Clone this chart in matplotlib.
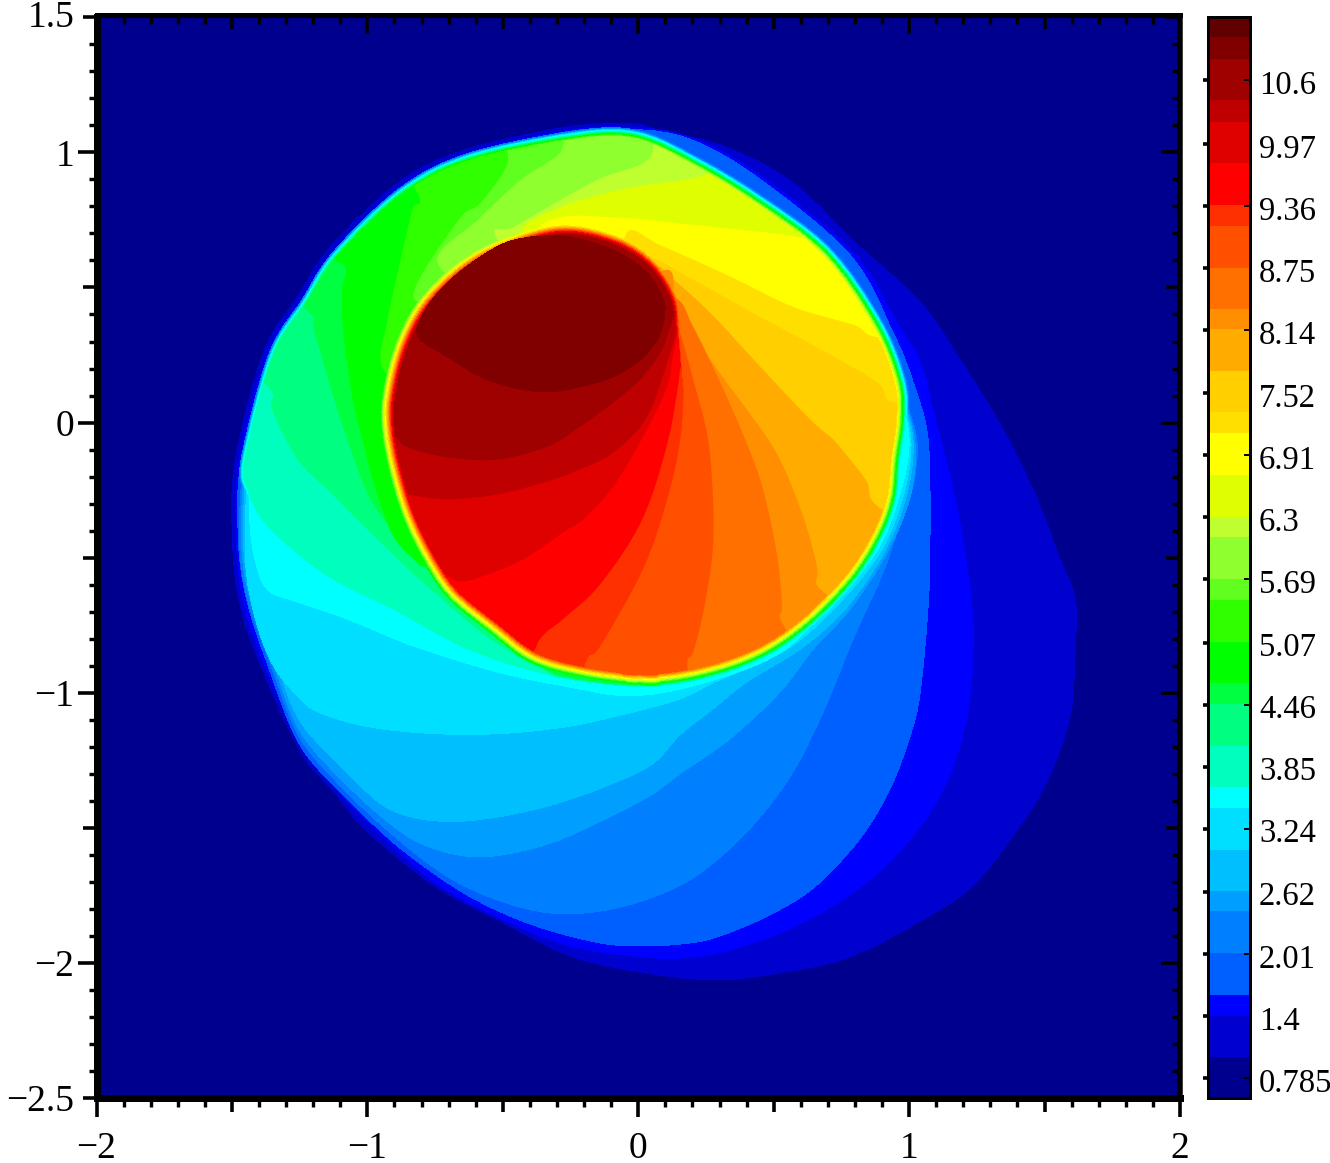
import numpy as np
import matplotlib
matplotlib.use("Agg")
import matplotlib.pyplot as plt
import matplotlib.lines as mlines
from matplotlib.path import Path
from matplotlib.patches import PathPatch
from matplotlib.ticker import MultipleLocator

plt.rcParams["font.family"] = ["Liberation Serif", "DejaVu Serif"]

# colour bands of the scale, lowest first
band_edges = [0.592, 0.994, 1.396, 1.60, 2.015, 2.427, 2.623, 3.035, 3.447, 3.653, 4.056,
              4.468, 4.674, 5.077, 5.489, 5.695, 6.107, 6.303, 6.715, 7.127, 7.333, 7.736,
              8.148, 8.354, 8.756, 9.168, 9.374, 9.787, 10.19, 10.40, 10.81, 11.02, 11.22]
band_rgb = [(0, 0, 143), (0, 0, 207), (0, 0, 255), (0, 96, 255), (0, 128, 255), (0, 159, 255),
            (0, 191, 255), (0, 223, 255), (0, 255, 255), (0, 255, 191), (0, 255, 128),
            (0, 255, 64), (0, 255, 0), (48, 255, 0), (96, 255, 32), (143, 255, 48),
            (191, 255, 48), (223, 255, 0), (255, 255, 0), (255, 223, 0), (255, 207, 0),
            (255, 171, 0), (255, 143, 0), (255, 112, 0), (255, 80, 0), (255, 48, 0),
            (255, 0, 0), (223, 0, 0), (191, 0, 0), (159, 0, 0), (128, 0, 0), (96, 0, 0)]
cbar_ticks = [0.785, 1.4, 2.01, 2.62, 3.24, 3.85, 4.46, 5.07, 5.69, 6.3, 6.91, 7.52, 8.14,
              8.75, 9.36, 9.97, 10.6]
cbar_labels = ["0.785", "1.4", "2.01", "2.62", "3.24", "3.85", "4.46", "5.07", "5.69", "6.3",
               "6.91", "7.52", "8.14", "8.75", "9.36", "9.97", "10.6"]

# contour outlines of the three lowest levels
c01_x = [-.030, .081, .328, .572, .819, 1.041, 1.188, 1.336, 1.465, 1.557, 1.613, 1.613, 1.594, 1.509,
         1.384, 1.225, 1.015, .771, .524, .277, -.018, -.262, -.509, -.756, -1.0, -1.125, -1.247, -1.384,
         -1.469, -1.498, -1.487, -1.384, -1.258, -1.137, -.889, -.646, -.277]
c01_y = [1.107, 1.081, 1.018, .886, .649, .446, .232, -.007, -.266, -.506, -.653, -.838, -1.085, -1.328,
         -1.528, -1.723, -1.860, -1.982, -2.037, -2.063, -2.03, -1.97, -1.845, -1.712, -1.513, -1.365,
         -1.218, -.923, -.679, -.432, -.137, .258, .465, .649, .886, 1.007, 1.092]
c02_x = [-.022, .192, .450, .793, .948, 1.041, 1.096, 1.170, 1.225, 1.236, 1.214, 1.140, 1.015, .830, .587,
         .339, .155, -.018, -.262, -.509, -.756, -1.0, -1.125, -1.247, -1.376, -1.458, -1.483, -1.472,
         -1.369, -1.244, -1.122, -.875, -.631, -.262]
c02_y = [1.092, 1.055, .915, .627, .380, .221, .011, -.284, -.616, -.838, -1.085, -1.328, -1.528, -1.712,
         -1.860, -1.952, -1.982, -1.974, -1.934, -1.834, -1.697, -1.476, -1.343, -1.181, -.904, -.661,
         -.432, -.137, .251, .454, .635, .875, .996, 1.081]
c03_x = [-.015, .192, .439, .782, .941, 1.015, 1.070, 1.077, 1.070, 1.041, 1.004, .930, .819, .646, .461,
         .277, .155, .018, -.140, -.387, -.631, -.878, -1.063, -1.247, -1.369, -1.446, -1.476, -1.465,
         -1.358, -1.232, -1.111, -.867, -.624, -.258]
c03_y = [1.085, 1.048, .908, .620, .332, .148, -.063, -.432, -.679, -.996, -1.159, -1.354, -1.539, -1.723,
         -1.834, -1.908, -1.930, -1.937, -1.926, -1.860, -1.749, -1.576, -1.402, -1.196, -.893, -.653,
         -.432, -.137, .244, .446, .627, .867, .989, 1.077]

# lower contours of the levels that wrap under the shell
c04_x = [.989, 1.030, 1.011, .967, .904, .793, .683, .561, .402, .218, .044, -.140, -.325, -.509, -.694,
         -.878, -1.063, -1.247, -1.358, -1.443, -1.472, -1.461]
c04_y = [.085, -.081, -.247, -.369, -.554, -.801, -1.070, -1.310, -1.513, -1.675, -1.760, -1.808, -1.815,
         -1.771, -1.686, -1.550, -1.380, -1.170, -.893, -.653, -.432, -.137]
c05_x = [.985, 1.022, 1.004, .919, .782, .646, .524, .339, .155, .044, -.140, -.325, -.509, -.631, -.756,
         -.878, -1.063, -1.247, -1.351, -1.435, -1.465, -1.454]
c05_y = [.085, -.081, -.273, -.480, -.690, -.838, -.996, -1.170, -1.299, -1.380, -1.476, -1.557, -1.601,
         -1.605, -1.576, -1.513, -1.354, -1.144, -.882, -.646, -.432, -.137]
c06_x = [.982, 1.015, .989, .908, .764, .598, .402, .277, .155, .044, -.140, -.325, -.509, -.668, -.815,
         -.941, -1.063, -1.247, -1.343, -1.428, -1.458, -1.446]
c06_y = [.085, -.081, -.273, -.480, -.690, -.838, -.959, -1.059, -1.155, -1.269, -1.354, -1.417, -1.458,
         -1.476, -1.465, -1.417, -1.306, -1.107, -.867, -.638, -.432, -.137]
c07_x = [.978, 1.007, .978, .893, .738, .550, .292, .155, -.030, -.262, -.509, -.756, -1.0, -1.184, -1.258,
         -1.347, -1.413, -1.450, -1.443]
c07_y = [.085, -.081, -.273, -.480, -.672, -.838, -.956, -1.022, -1.074, -1.125, -1.151, -1.151, -1.125,
         -1.070, -1.011, -.900, -.727, -.506, -.137]
c08_x = [.974, 1.0, .963, .878, .708, .517, .229, -.030, -.277, -.520, -.830, -1.074, -1.258, -1.358,
         -1.402, -1.432, -1.435]
c08_y = [.085, -.081, -.273, -.480, -.672, -.856, -.967, -1.011, -.974, -.923, -.827, -.727, -.664, -.627,
         -.554, -.395, -.137]

# contours across the shell and the core, each running from inner end to outer end
c09_x = [.007, -.214, -.399, -.646, -.889, -1.137, -1.284, -1.387, -1.469, -1.542]
c09_y = [-1.041, -.985, -.941, -.838, -.701, -.579, -.469, -.395, -.303, -.137]
c10_x = [.007, -.232, -.336, -.546, -.768, -.952, -1.137, -1.258, -1.351, -1.351, -1.432, -1.506]
c10_y = [-1.041, -.967, -.923, -.801, -.616, -.443, -.258, -.137, .048, .111, .196, .306]
c11_x = [.007, -.288, -.399, -.546, -.720, -.867, -.989, -1.074, -1.137, -1.199, -1.199, -1.284, -1.395]
c11_y = [-1.041, -.941, -.875, -.764, -.605, -.443, -.284, -.063, .133, .354, .391, .472, .601]
c12_x = [-.804, -.904, -.978, -1.018, -1.052, -1.089, -1.092, -1.081, -1.155, -1.247]
c12_y = [-.531, -.421, -.221, -.063, .074, .332, .491, .576, .620, .731]
c13_x = [-.768, -.941, -.926, -.852, -.830, -.804, -.860, -.878]
c13_y = [.085, .196, .380, .712, .797, .823, .934, 1.044]
c14_x = [-.620, -.830, -.664, -.583, -.483, -.509, -.528]
c14_y = [.454, .465, .749, .812, .959, 1.063, 1.155]
c15_x = [-.583, -.742, -.594, -.435, -.288, -.288]
c15_y = [.454, .601, .749, .897, 1.0, 1.100]
c16_x = [-.362, -.528, -.461, -.277, -.129, .033, .063]
c16_y = [.454, .694, .723, .830, .908, .970, 1.081]
c17_x = [-.288, -.435, -.288, -.041, .240, .273]
c17_y = [.454, .690, .797, .867, .915, 1.007]
c18_x = [-.251, -.380, -.288, -.041, .144, .598, .683, .764]
c18_y = [.454, .675, .760, .756, .738, .686, .638, .675]
c19_x = [-.066, -.041, .081, .328, .572, .793, .849, .930]
c19_y = [.491, .705, .657, .546, .428, .362, .325, .306]
c20_x = [-.030, .026, .203, .450, .697, .882, .919, .985]
c20_y = [.454, .609, .528, .391, .258, .148, .085, .066]
c21_x = [-.066, .063, .118, .266, .450, .635, .720, .782, .845, .867, .985]
c21_y = [.454, .572, .539, .406, .207, .011, -.063, -.137, -.221, -.295, -.376]
c22_x = [-.066, .111, .144, .266, .480, .561, .624, .661, .661, .745]
c22_y = [.454, .565, .417, .232, -.063, -.221, -.395, -.542, -.605, -.672]
c23_x = [-.066, .129, .203, .303, .395, .461, .513, .531, .524, .590]
c23_y = [.454, .465, .354, .148, -.063, -.247, -.494, -.679, -.727, -.838]
c24_x = [-.066, .118, .155, .203, .258, .277, .273, .240, .203, .181, .192]
c24_y = [.454, .443, .332, .159, -.063, -.310, -.494, -.701, -.849, -.882, -.985]
c25_x = [.192, .192, .173, .155, .107, .018, -.140, -.188, -.232]
c25_y = [.638, .343, .196, -.063, -.284, -.542, -.827, -.875, -1.022]
c26_x = [.192, .177, .155, .111, .015, -.140, -.277, -.362, -.417]
c26_y = [.638, .343, .196, -.063, -.358, -.598, -.727, -.801, -.930]
c27_x = [.192, .155, .129, .107, .018, -.092, -.203, -.277, -.424, -.583, -.668, -.742, -.804, -.952]
c27_y = [.638, .380, .258, .133, -.052, -.236, -.358, -.406, -.506, -.572, -.587, -.542, -.542, -.506]
c28_x = [.192, .148, .118, .033, -.092, -.214, -.336, -.520, -.705, -.852, -.915, -1.026]
c28_y = [.638, .380, .258, .022, -.111, -.173, -.218, -.266, -.284, -.266, -.247, -.210]
c29_x = [.192, .137, .111, .081, .007, -.092, -.214, -.336, -.520, -.705, -.852, -.897, -.970]
c29_y = [.638, .417, .332, .258, .159, .074, -.015, -.089, -.137, -.129, -.092, -.052, -.026]
c30_x = [-.812, -.705, -.583, -.461, -.336, -.214, -.092, .007, .070, .096, .092, .033, -.092, -.277, -.461,
         -.583, -.705, -.793]
c30_y = [.317, .244, .170, .129, .114, .133, .170, .232, .306, .391, .454, .554, .638, .690, .675, .613,
         .517, .406]

# innermost contours of the outer shock and of the core edge
shock_x = [-.030, .181, .413, .657, .834, .915, .923, .904, .889, .838, .745, .590, .424, .218, .011, -.196,
           -.387, -.620, -.860, -1.100, -1.247, -1.339, -1.384, -1.391, -1.295, -1.181, -1.070, -.841,
           -.613, -.262]
shock_y = [1.011, .919, .779, .594, .343, .144, .011, -.129, -.273, -.406, -.550, -.708, -.819, -.889, -.915,
           -.897, -.856, -.775, -.646, -.524, -.413, -.321, -.229, -.137, .225, .410, .583, .804, .923, 1.0]
core_x = [-.897, -.897, -.856, -.775, -.638, -.483, -.280, -.085, .044, .118, .133, .155, .192, .199, .155,
          .081, .011, -.196, -.373, -.513, -.664, -.756, -.827, -.875]
core_y = [-.026, .085, .262, .421, .557, .642, .697, .657, .572, .454, .343, .085, -.210, -.506, -.801, -.904,
          -.915, -.889, -.838, -.734, -.609, -.469, -.317, -.151]
# how far (px) each level 4..29 sits outside those innermost contours
ring_px = [20, 19, 18.5, 18, 17.5, 16.5, 15.5, 14.8, 14, 13, 12.2, 11.5, 10.8, 10, 9, 8.3, 7.5, 6.8, 6, 5.2,
           4.5, 3.8, 3, 2, 1, 0]

DPI = 100
W, H = 1330, 1163
colors = [tuple(c / 255 for c in rgb) for rgb in band_rgb]


def catmull(x, y, closed=False):
    pts = np.column_stack([x, y])
    if closed:
        tang = (np.roll(pts, -1, axis=0) - np.roll(pts, 1, axis=0)) / 6
        order = list(range(len(pts))) + [0]
    else:
        tang = np.zeros_like(pts)
        tang[1:-1] = (pts[2:] - pts[:-2]) / 6
        tang[0] = (pts[1] - pts[0]) / 3
        tang[-1] = (pts[-1] - pts[-2]) / 3
        order = list(range(len(pts)))
    verts = [pts[0]]
    for a, b in zip(order[:-1], order[1:]):
        verts += [pts[a] + tang[a], pts[b] - tang[b], pts[b]]
    return verts


def outline(x, y):
    verts = catmull(x, y, closed=True)
    codes = [Path.MOVETO] + [Path.CURVE4] * (len(verts) - 1)
    return Path(verts + [verts[0]], codes + [Path.CLOSEPOLY])


def wedge(x, y, close_x, close_y):
    verts = catmull(x, y)
    codes = [Path.MOVETO] + [Path.CURVE4] * (len(verts) - 1)
    for cx, cy in zip(close_x, close_y):
        verts.append((cx, cy))
        codes.append(Path.LINETO)
    return Path(verts + [verts[0]], codes + [Path.CLOSEPOLY])


def paint(path, level, grow=0, clip=None):
    patch = PathPatch(path, facecolor=colors[level], edgecolor=colors[level] if grow else "none",
                      linewidth=2 * grow * 72 / DPI, joinstyle="round", antialiased=False)
    ax.add_patch(patch)
    if clip is not None:
        patch.set_clip_path(clip, ax.transData)


fig = plt.figure(figsize=(W / DPI, H / DPI), dpi=DPI)
ax = fig.add_axes([96.5 / W, (H - 1098) / H, (1180 - 96.5) / W, (1098 - 17.3) / H])
ax.set_xlim(-2, 2)
ax.set_ylim(-2.5, 1.5)
ax.set_facecolor(colors[0])

shock = outline(shock_x, shock_y)
core = outline(core_x, core_y)


def grow_of(level):
    return ring_px[level - 4]


for level, (cx, cy) in zip([1, 2, 3], [(c01_x, c01_y), (c02_x, c02_y), (c03_x, c03_y)]):
    paint(outline(cx, cy), level)

for level, (cx, cy) in zip([4, 5, 6, 7, 8], [(c04_x, c04_y), (c05_x, c05_y), (c06_x, c06_y),
                                             (c07_x, c07_y), (c08_x, c08_y)]):
    paint(wedge(cx, cy, [], []), level)
    paint(shock, level, grow_of(level))

# closing runs of the clip outlines, round the parts of the picture that are above each level
close_left_x, close_left_y = [-1.6, 1.5, 1.5], [1.3, 1.3, -1.1]
close_under_x, close_under_y = [.044, -.14, -.694], [-1.1, -.8, -.542]
close_right_x, close_right_y = [1.5, 1.5] + close_under_x, [1.3, -1.1] + close_under_y

high_levels = [
    (9, c09_x, c09_y, close_left_x, close_left_y),
    (10, c10_x, c10_y, close_left_x, close_left_y),
    (11, c11_x, c11_y, close_left_x, close_left_y),
    (12, c12_x, c12_y, close_left_x + close_under_x, close_left_y + close_under_y),
    (13, c13_x, c13_y, close_right_x, close_right_y),
    (14, c14_x, c14_y, close_right_x, close_right_y),
    (15, c15_x, c15_y, close_right_x, close_right_y),
    (16, c16_x, c16_y, close_right_x, close_right_y),
    (17, c17_x, c17_y, close_right_x, close_right_y),
    (18, c18_x, c18_y, close_right_x, close_right_y),
    (19, c19_x, c19_y, close_right_x, close_right_y),
    (20, c20_x, c20_y, close_right_x, close_right_y),
    (21, c21_x, c21_y, close_right_x, close_right_y),
    (22, c22_x, c22_y, close_under_x, close_under_y),
    (23, c23_x, c23_y, close_under_x, close_under_y),
    (24, c24_x, c24_y, close_under_x, close_under_y),
]
for level, cx, cy, close_x, close_y in high_levels:
    paint(shock, level, grow_of(level), clip=wedge(cx, cy, close_x, close_y))
    paint(core, level, grow_of(level))

for level, cx, cy in [(25, c25_x, c25_y), (26, c26_x, c26_y), (27, c27_x, c27_y),
                      (28, c28_x, c28_y), (29, c29_x, c29_y)]:
    clip = wedge(cx, cy, [-1.247, -1.247, .192], [cy[-1], 1.0, 1.0])
    paint(core, level, grow_of(level), clip=clip)

paint(outline(c30_x, c30_y), 30)

# frame and ticks
PX = 72 / DPI
ax.spines["top"].set_position(("outward", 2.5 * PX))
ax.spines["left"].set_linewidth(7 * PX)
ax.spines["bottom"].set_linewidth(7 * PX)
ax.spines["top"].set_linewidth(5 * PX)
ax.spines["right"].set_linewidth(5.5 * PX)

x_major = [-2, -1.5, -1, -.5, 0, .5, 1, 1.5, 2]
x_labels = ["\u22122", "", "\u22121", "", "0", "", "1", "", "2"]
y_major = [-2.5, -2, -1.5, -1, -.5, 0, .5, 1, 1.5]
y_labels = ["\u22122.5", "\u22122", "", "\u22121", "", "0", "", "1", "1.5"]
ax.set_xticks(x_major, x_labels)
ax.set_yticks(y_major, y_labels)
ax.xaxis.set_minor_locator(MultipleLocator(0.1))
ax.yaxis.set_minor_locator(MultipleLocator(0.1))
ax.tick_params(which="major", length=19 * PX, width=3.6 * PX, top=True, right=True, labelsize=27)
ax.tick_params(which="minor", length=8.5 * PX, width=3.4 * PX, top=True, right=True)
ax.tick_params(axis="x", which="major", pad=14 * PX)
ax.tick_params(axis="y", which="major", pad=3 * PX)

for axis, inward, values in [(ax.xaxis, mlines.TICKDOWN, x_major), (ax.yaxis, mlines.TICKLEFT, y_major)]:
    for tick in axis.get_major_ticks():
        tick.tick2line.set_marker(inward)
    for tick in axis.get_minor_ticks():
        tick.tick2line.set_marker(inward)
    for tick, val in zip(axis.get_major_ticks(), values):
        size = 19 * PX if float(val).is_integer() else 14 * PX
        tick.tick1line.set_markersize(size)
        tick.tick2line.set_markersize(size)
ax.yaxis.get_major_ticks()[-1].label1.set_verticalalignment("center")

# colour scale
cax = fig.add_axes([1207.5 / W, (H - 1098) / H, (1250 - 1207.5) / W, (1098 - 17) / H])
cax.bar(0, np.diff(band_edges), bottom=band_edges[:-1], width=1, color=colors, antialiased=False)
cax.set_xlim(-.5, .5)
cax.set_ylim(band_edges[0], band_edges[-1])
cax.set_xticks([])
for spine in cax.spines.values():
    spine.set_linewidth(3 * PX)
cax.set_yticks(cbar_ticks, [""] * len(cbar_ticks))
cax.tick_params(axis="y", which="major", direction="out", left=True, length=5.5 * PX, width=3.6 * PX)
for val, label in zip(cbar_ticks, cbar_labels):
    cax.annotate(label, xy=(1, val), xycoords=cax.get_yaxis_transform(), xytext=(9 * PX, -5.5 * PX),
                 textcoords="offset points", va="center", ha="left", fontsize=23.5)
for val in cbar_ticks[::2]:
    cax.plot([1, .88], [val, val], color="black", lw=2 * PX, transform=cax.get_yaxis_transform(),
             clip_on=False)

fig.savefig("out.png", dpi=DPI)
